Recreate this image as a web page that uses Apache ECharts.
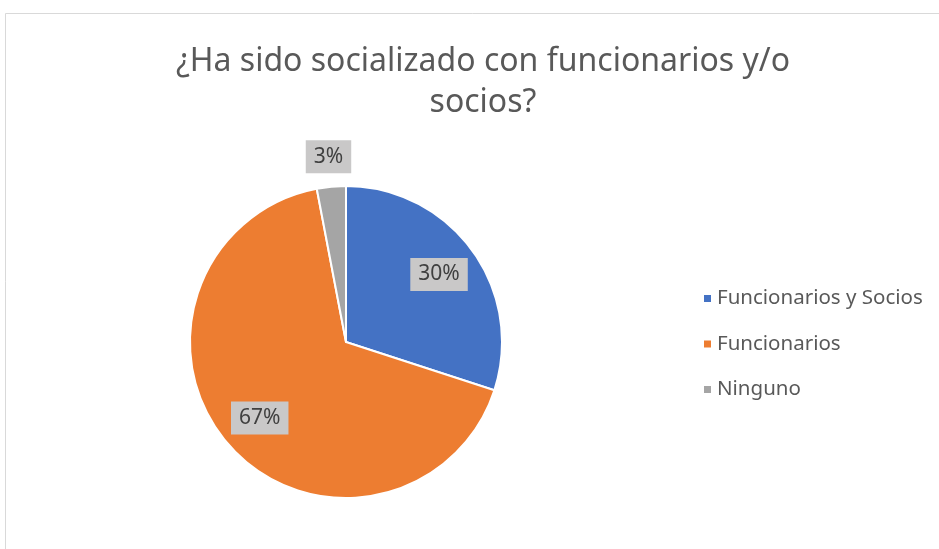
<!DOCTYPE html>
<html>
<head>
<meta charset="utf-8">
<style>html,body{margin:0;padding:0;background:#fff}#c{width:939px;height:549px}</style>
<script src="https://cdn.jsdelivr.net/npm/echarts@6/dist/echarts.min.js"></script>
</head>
<body>
<div id="c"></div>
<script>
const titleText = "¿Ha sido socializado con funcionarios y/o\nsocios?";
const categories = ["Funcionarios y Socios", "Funcionarios", "Ninguno"];
const values = [30, 67, 3];
const colors = ["#4472C4", "#ED7D31", "#A5A5A5"];

const FONT = "Noto Sans";
const labelStyle = {
  fontFamily: FONT, fontSize: 21, color: "#404040",
  backgroundColor: "#C9C8C8", padding: [7, 8, 5, 8],
  formatter: p => p.value + "%"
};

const chart = echarts.init(document.getElementById("c"), null, {renderer: "canvas"});
const mainData = categories.map((n, i) => ({name: n, value: values[i], itemStyle: {color: colors[i]}}));
// overlay series only carry labels at Excel-like radial positions
const innerLabelData = categories.map((n, i) => ({name: n, value: values[i], label: {show: i < 2}}));
const outerLabelData = categories.map((n, i) => ({name: n, value: values[i], label: {show: i === 2}}));

chart.setOption({
  animation: false,
  backgroundColor: "#fff",
  graphic: [{
    type: "rect", silent: true, z: -10,
    shape: {x: 5.5, y: 13.5, width: 960, height: 560},
    style: {fill: "none", stroke: "#D9D9D9", lineWidth: 1}
  }],
  title: {
    text: titleText, left: 478, top: 36, textAlign: "center",
    textStyle: {fontFamily: FONT, fontSize: 32, fontWeight: "normal", color: "#595959", lineHeight: 41}
  },
  legend: {
    orient: "vertical", left: 697, top: 283,
    data: categories, icon: "rect", itemWidth: 9, itemHeight: 9, itemGap: 24.5,
    textStyle: {fontFamily: FONT, fontSize: 20.5, color: "#595959", lineHeight: 20, padding: [0, 0, 0, 0]},
    selectedMode: false
  },
  series: [
    {
      type: "pie", center: [346, 342], radius: [0, 156], startAngle: 90, clockwise: true,
      itemStyle: {borderColor: "#fff", borderWidth: 2},
      label: {show: false}, labelLine: {show: false}, emphasis: {disabled: true},
      data: mainData
    },
    {
      type: "pie", center: [346, 342], radius: [0, 224], startAngle: 90, clockwise: true,
      silent: true, z: 5,
      itemStyle: {color: "rgba(0,0,0,0)", borderWidth: 0},
      label: Object.assign({show: true, position: "inside"}, labelStyle),
      labelLine: {show: false}, emphasis: {disabled: true},
      data: innerLabelData
    },
    {
      type: "pie", center: [346, 342], radius: [0, 366], startAngle: 90, clockwise: true,
      silent: true, z: 5,
      itemStyle: {color: "rgba(0,0,0,0)", borderWidth: 0},
      label: Object.assign({show: true, position: "inside"}, labelStyle),
      labelLine: {show: false}, emphasis: {disabled: true},
      data: outerLabelData
    }
  ]
});
</script>
</body>
</html>
